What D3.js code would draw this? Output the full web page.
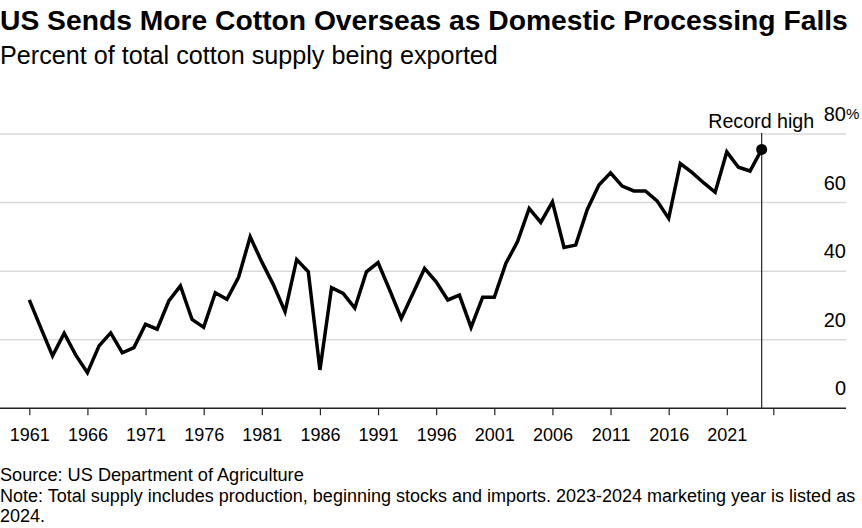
<!DOCTYPE html>
<html><head><meta charset="utf-8">
<script src="https://cdn.jsdelivr.net/npm/d3@7"></script>
<style>
body{margin:0;background:#fff;}
svg{display:block;font-family:"Liberation Sans",Arial,sans-serif;}
</style></head>
<body><svg id="c" width="862" height="528"></svg>
<script>
const years = d3.range(1961, 2025);
const exportShare = [31.6,23.4,15.3,21.9,15.5,10.4,18.2,22.0,16.2,17.7,
  24.5,23.1,31.3,35.7,25.9,23.6,33.7,31.8,38.2,50.0,
  42.7,36.0,28.2,43.4,39.8,11.2,35.2,33.5,29.2,39.8,
  42.5,34.5,26.2,33.5,40.8,36.9,31.6,33.0,23.6,32.4,
  32.4,42.3,48.6,58.3,54.2,60.2,46.9,47.6,58.0,65.1,
  68.7,64.8,63.4,63.4,60.5,55.4,71.4,68.8,65.8,63.0,
  74.8,70.3,69.2,75.5];
const yTicks = [0,20,40,60,80];
const xTickYears = [1961,1966,1971,1976,1981,1986,1991,1996,2001,2006,2011,2016,2021,2025];
const title = "US Sends More Cotton Overseas as Domestic Processing Falls";
const subtitle = "Percent of total cotton supply being exported";
const source = "Source: US Department of Agriculture";
const noteLines = ["Note: Total supply includes production, beginning stocks and imports. 2023-2024 marketing year is listed as","2024."];
const recordLabel = "Record high";

const svg = d3.select("#c");
const x = d3.scaleLinear().domain([1961, 2025]).range([29.3, 773.3]);
const y = d3.scaleLinear().domain([0, 80]).range([408.3, 134]);

function fit(sel, w){
  const n = sel.node(); const fs = parseFloat(sel.attr("font-size"));
  const f = fs * w / n.getComputedTextLength();
  sel.attr("font-size", f);
  return f;
}
const t = svg.append("text").attr("x",0).attr("y",30).attr("font-size",24).attr("font-weight","bold").attr("fill","#000").text(title);
fit(t, 848);
const st = svg.append("text").attr("x",0).attr("y",64).attr("font-size",20).attr("fill","#000").text(subtitle);
fit(st, 498);

// grid
svg.append("g").selectAll("line").data(yTicks.filter(d=>d>0)).join("line")
  .attr("x1",0).attr("x2",846).attr("y1",d=>y(d)).attr("y2",d=>y(d))
  .attr("stroke","#dadada").attr("stroke-width",1.5);

// y labels
svg.append("g").selectAll("text").data(yTicks).join("text")
  .attr("x",846).attr("y",d=>y(d)-13).attr("text-anchor","end")
  .attr("font-size",20).attr("fill","#000")
  .text(d=>d);
svg.append("text").attr("x",846).attr("y",y(80)-15).attr("font-size",15).attr("fill","#000").text("%");

// x axis
const xAxis = d3.axisBottom(x).tickValues(xTickYears).tickSize(7).tickPadding(13)
  .tickFormat(d=>d===2025?"":String(d));
const gx = svg.append("g").attr("transform",`translate(0,${y(0)})`).call(xAxis);
gx.select(".domain").remove();
gx.selectAll(".tick line").attr("stroke","#222").attr("stroke-width",1.2);
gx.selectAll(".tick text").attr("font-size",18).attr("fill","#000").attr("font-family","Liberation Sans, Arial, sans-serif");
svg.append("line").attr("x1",0).attr("x2",846).attr("y1",y(0)).attr("y2",y(0)).attr("stroke","#222").attr("stroke-width",1.5);

// record high line
const lastYear = years[years.length-1], lastVal = exportShare[exportShare.length-1];
svg.append("line").attr("x1",x(lastYear)).attr("x2",x(lastYear)).attr("y1",y(80)-1).attr("y2",y(0))
  .attr("stroke","#222").attr("stroke-width",1.2);

// line
const line = d3.line().x((d,i)=>x(years[i])).y(d=>y(d));
svg.append("path").datum(exportShare).attr("d",line).attr("fill","none")
  .attr("stroke","#000").attr("stroke-width",3.5).attr("stroke-linejoin","miter");

svg.append("circle").attr("cx",x(lastYear)).attr("cy",y(lastVal)).attr("r",5.5).attr("fill","#000");
const rl = svg.append("text").attr("x",x(lastYear)+52.5).attr("y",128).attr("text-anchor","end")
  .attr("font-size",17).attr("fill","#000").text(recordLabel);
fit(rl, 106);

// footer
const sf = svg.append("text").attr("x",0).attr("y",481).attr("font-size",16).attr("fill","#000").text(source);
fit(sf, 304);
const nf = svg.append("g").selectAll("text").data(noteLines).join("text")
  .attr("x",0).attr("y",(d,i)=>501.5+i*20.5).attr("font-size",16).attr("fill","#000").text(d=>d);
const f2 = fit(d3.select(nf.nodes()[0]), 856);
nf.attr("font-size", f2);
</script></body></html>
